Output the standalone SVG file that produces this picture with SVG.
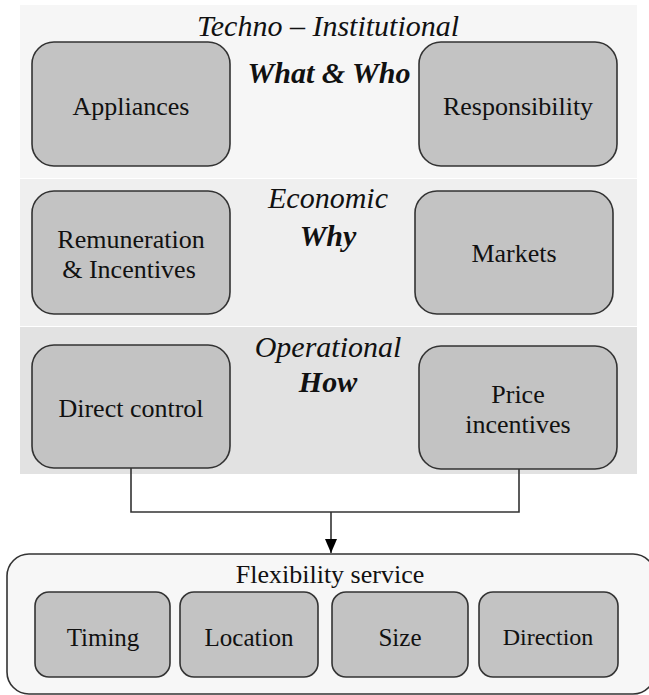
<svg xmlns="http://www.w3.org/2000/svg" width="649" height="695" viewBox="0 0 649 695">
<style>
.node{fill:#c3c3c3;stroke:#333;stroke-width:1.6}
text{font-family:'Liberation Serif','Times New Roman',Times,'DejaVu Serif',serif;fill:#111;text-anchor:middle}
.lbl{font-size:26px}
.sm{font-size:25px}
.hd{font-size:30px;font-style:italic}
.hb{font-weight:bold}
.conn{fill:none;stroke:#333;stroke-width:1.6}
</style>
<defs>
<marker id="arr" markerWidth="14" markerHeight="12" refX="14" refY="6" orient="auto" markerUnits="userSpaceOnUse">
<path d="M0,0 L14,6 L0,12 Z" fill="#000"/>
</marker>
</defs>
<rect width="649" height="695" fill="#fff"/>
<g id="bands">
<rect x="20" y="5" width="617" height="173" fill="#f6f6f6"/>
<rect x="20" y="179" width="617" height="147" fill="#efefef"/>
<rect x="20" y="327" width="617" height="147" fill="#e2e2e2"/>
<text class="hd" x="328" y="36">Techno – Institutional</text>
<text class="hd hb" x="329" y="83">What &amp; Who</text>
<text class="hd" x="328" y="208">Economic</text>
<text class="hd hb" x="328" y="246">Why</text>
<text class="hd" x="328" y="357">Operational</text>
<text class="hd hb" x="328" y="392">How</text>
</g>
<g id="connectors">
<polyline class="conn" points="131,468 131,512 519,512 519,469"/>
<line class="conn" x1="331" y1="512" x2="331" y2="553" marker-end="url(#arr)"/>
</g>
<g id="appliances"><rect class="node" x="32" y="42" width="198" height="124" rx="22"/><text class="lbl" x="131" y="115">Appliances</text></g>
<g id="responsibility"><rect class="node" x="419" y="42" width="198" height="124" rx="22"/><text class="lbl" x="518" y="115">Responsibility</text></g>
<g id="remuneration"><rect class="node" x="32" y="191" width="198" height="123" rx="22"/><text class="lbl" x="131" y="248">Remuneration</text><text class="lbl" x="129" y="278">&amp; Incentives</text></g>
<g id="markets"><rect class="node" x="415" y="191" width="198" height="123" rx="22"/><text class="lbl" x="514" y="262">Markets</text></g>
<g id="direct-control"><rect class="node" x="32" y="345" width="198" height="123" rx="22"/><text class="lbl" x="131" y="417">Direct control</text></g>
<g id="price-incentives"><rect class="node" x="419" y="346" width="198" height="123" rx="22"/><text class="lbl" x="518" y="403">Price</text><text class="lbl" x="518" y="433">incentives</text></g>
<g id="flexibility-service"><rect x="7" y="554" width="648" height="140" rx="22" fill="#f7f7f7" stroke="#333" stroke-width="1.6"/><text class="lbl" x="330" y="583">Flexibility service</text></g>
<g id="timing"><rect class="node" x="35" y="592" width="135" height="85" rx="14"/><text class="lbl sm" x="103" y="646">Timing</text></g>
<g id="location"><rect class="node" x="180" y="592" width="138" height="85" rx="14"/><text class="lbl sm" x="249" y="646">Location</text></g>
<g id="size"><rect class="node" x="332" y="592" width="136" height="85" rx="14"/><text class="lbl sm" x="400" y="646">Size</text></g>
<g id="direction"><rect class="node" x="479" y="592" width="139" height="85" rx="14"/><text class="lbl" x="548" y="645" style="font-size:24px">Direction</text></g>
</svg>
